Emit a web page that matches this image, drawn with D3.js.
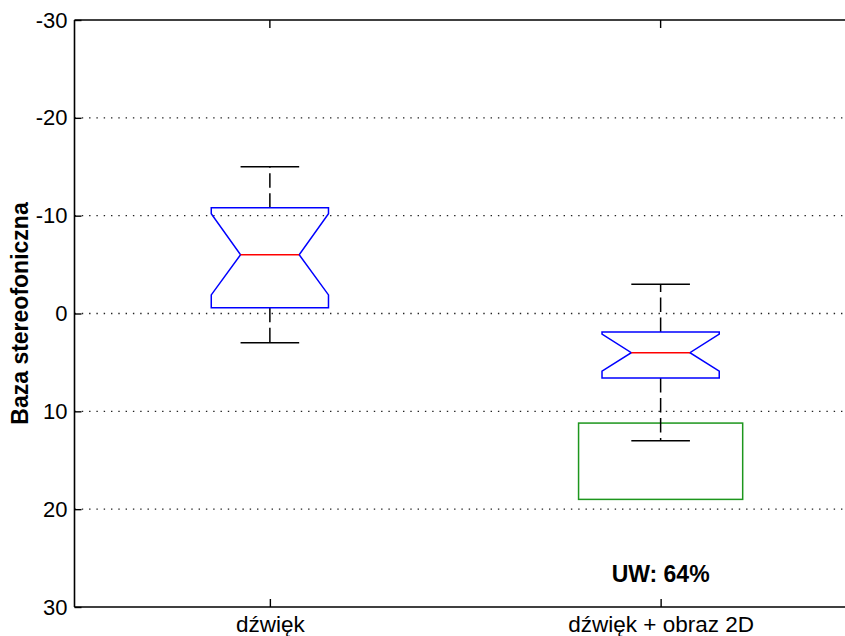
<!DOCTYPE html>
<html>
<head>
<meta charset="utf-8">
<script src="https://cdn.jsdelivr.net/npm/d3@7"></script>
<style>
  html, body { margin: 0; padding: 0; background: #fff; }
  svg { display: block; font-family: Arial, "Liberation Sans", sans-serif; }
</style>
</head>
<body>
<svg id="chart" width="845" height="636"></svg>
<script>
// Groups and their box statistics (values on the "Baza stereofoniczna" scale)
const categories = ["dźwięk", "dźwięk + obraz 2D"];
const whiskerLow  = [-15, -3];
const quartileLow = [-10.8, 1.9];
const medians     = [-6, 4];
const quartileHigh = [-0.6, 6.6];
const whiskerHigh = [3, 13];
const notchLow    = [-10.2, 2.1];
const notchHigh   = [-1.9, 5.9];

// Highlighted range for the second group
const uwRange = [11.2, 19];
const uwSpan = [1.79, 2.21];
const uwLabel = "UW: 64%";

const yTicks = [-30, -20, -10, 0, 10, 20, 30];
const gridTicks = [-20, -10, 0, 10, 20];

const svg = d3.select("#chart");
const plotLeft = 74.5, plotTop = 20, plotBottom = 607, plotRight = 856;

const y = d3.scaleLinear().domain([-30, 30]).range([plotTop, plotBottom]);
const x = d3.scaleLinear().domain([0.5, 2.5]).range([plotLeft, plotRight]);

const boxHalf = 0.15, notchHalf = 0.075, capHalf = 0.075;
const fontFamily = "Arial, 'Liberation Sans', sans-serif";

// dotted horizontal grid
svg.append("g").selectAll("line").data(gridTicks).join("line")
  .attr("x1", plotLeft).attr("x2", plotRight)
  .attr("y1", d => y(d)).attr("y2", d => y(d))
  .attr("stroke", "#222").attr("stroke-width", 1.4)
  .attr("stroke-dasharray", "1.4 5.9");

// axes frame (left, top, bottom)
const frame = svg.append("g").attr("stroke", "#000").attr("stroke-width", 1.6).attr("fill", "none");
frame.append("line").attr("x1", plotLeft).attr("x2", plotLeft).attr("y1", plotTop).attr("y2", plotBottom);
frame.append("line").attr("x1", plotLeft).attr("x2", plotRight).attr("y1", plotTop).attr("y2", plotTop);
frame.append("line").attr("x1", plotLeft).attr("x2", plotRight).attr("y1", plotBottom).attr("y2", plotBottom);

// y axis: inward ticks, labels on the left
const yAxis = d3.axisLeft(y).tickValues(yTicks).tickSizeInner(-7).tickSizeOuter(0).tickPadding(7)
  .tickFormat(d3.format("d"));
const gy = svg.append("g").attr("transform", `translate(${plotLeft},0)`).call(yAxis);
gy.select(".domain").remove();
gy.selectAll(".tick line").attr("stroke", "#000").attr("stroke-width", 1.4);
gy.selectAll(".tick text").attr("font-size", 22).attr("fill", "#000")
  .attr("font-family", fontFamily)
  .text(d => d < 0 ? "-" + Math.abs(d) : String(d));

// x axis: inward ticks at group positions (bottom and top)
const idx = categories.map((c, i) => i + 1);
const xAxis = d3.axisBottom(x).tickValues(idx).tickSizeInner(-8).tickSizeOuter(0).tickPadding(9)
  .tickFormat((d, i) => categories[i]);
const gx = svg.append("g").attr("transform", `translate(0,${plotBottom})`).call(xAxis);
gx.select(".domain").remove();
gx.selectAll(".tick line").attr("stroke", "#000").attr("stroke-width", 1.4);
gx.selectAll(".tick text").attr("font-size", 22.5).attr("fill", "#000")
  .attr("font-family", fontFamily);
svg.append("g").selectAll("line").data(idx).join("line")
  .attr("x1", d => x(d)).attr("x2", d => x(d))
  .attr("y1", plotTop).attr("y2", plotTop + 8)
  .attr("stroke", "#000").attr("stroke-width", 1.4);

// y axis title
svg.append("text")
  .attr("transform", `translate(28,${(plotTop + plotBottom) / 2}) rotate(-90)`)
  .attr("text-anchor", "middle")
  .attr("font-weight", "bold").attr("font-size", 23)
  .attr("font-family", fontFamily)
  .text("Baza stereofoniczna");

// highlighted UW range
svg.append("rect")
  .attr("x", x(uwSpan[0])).attr("width", x(uwSpan[1]) - x(uwSpan[0]))
  .attr("y", y(uwRange[0])).attr("height", y(uwRange[1]) - y(uwRange[0]))
  .attr("fill", "none").attr("stroke", "#1d961d").attr("stroke-width", 1.5);

// box plots
const boxes = categories.map((c, i) => ({
  pos: i + 1, wl: whiskerLow[i], q1: quartileLow[i], med: medians[i],
  q3: quartileHigh[i], wh: whiskerHigh[i], nl: notchLow[i], nh: notchHigh[i]
}));

const g = svg.append("g").selectAll("g").data(boxes).join("g");

// whiskers (dashed) from box edges to caps
g.append("line")
  .attr("x1", d => x(d.pos)).attr("x2", d => x(d.pos))
  .attr("y1", d => y(d.q1)).attr("y2", d => y(d.wl))
  .attr("stroke", "#000").attr("stroke-width", 1.5).attr("stroke-dasharray", "14.5 5.5");
g.append("line")
  .attr("x1", d => x(d.pos)).attr("x2", d => x(d.pos))
  .attr("y1", d => y(d.q3)).attr("y2", d => y(d.wh))
  .attr("stroke", "#000").attr("stroke-width", 1.5).attr("stroke-dasharray", "14.5 5.5");

// whisker caps
["wl", "wh"].forEach(k => {
  g.append("line")
    .attr("x1", d => x(d.pos - capHalf)).attr("x2", d => x(d.pos + capHalf))
    .attr("y1", d => y(d[k])).attr("y2", d => y(d[k]))
    .attr("stroke", "#000").attr("stroke-width", 1.5);
});

// notched box outline
g.append("path")
  .attr("d", d => {
    const pts = [
      [d.pos - boxHalf, d.q1], [d.pos + boxHalf, d.q1],
      [d.pos + boxHalf, d.nl], [d.pos + notchHalf, d.med],
      [d.pos + boxHalf, d.nh], [d.pos + boxHalf, d.q3],
      [d.pos - boxHalf, d.q3], [d.pos - boxHalf, d.nh],
      [d.pos - notchHalf, d.med], [d.pos - boxHalf, d.nl]
    ];
    return d3.line().x(p => x(p[0])).y(p => y(p[1]))(pts) + "Z";
  })
  .attr("fill", "none").attr("stroke", "#0000ff").attr("stroke-width", 1.5);

// median
g.append("line")
  .attr("x1", d => x(d.pos - notchHalf)).attr("x2", d => x(d.pos + notchHalf))
  .attr("y1", d => y(d.med)).attr("y2", d => y(d.med))
  .attr("stroke", "#ff0000").attr("stroke-width", 1.5);

// annotation
svg.append("text")
  .attr("x", x(2)).attr("y", 582)
  .attr("text-anchor", "middle")
  .attr("font-weight", "bold").attr("font-size", 23)
  .attr("font-family", fontFamily)
  .text(uwLabel);
</script>
</body>
</html>
